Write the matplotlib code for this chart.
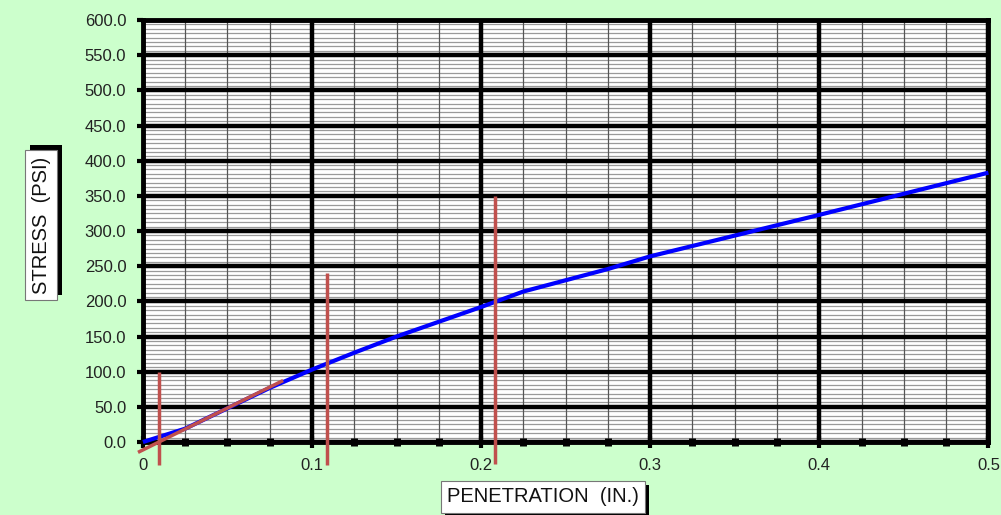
import matplotlib
matplotlib.use("Agg")
import matplotlib.pyplot as plt
from matplotlib.patches import Rectangle
import numpy as np

plt.rcParams['font.family'] = ['Liberation Sans', 'DejaVu Sans']

# Datos de la curva (penetracion vs esfuerzo)
penetration = [0, 0.025, 0.05, 0.075, 0.1, 0.125, 0.15, 0.175, 0.2, 0.225, 0.25, 0.275, 0.3, 0.4, 0.5]
stress = [0, 19, 48, 77, 103, 127, 150, 171, 192, 214, 230, 246, 264, 323, 383]

# Linea de correccion (tangente) y lineas verticales corregidas
corr_x = [-0.002, 0.082]
corr_y = [-13.6, 86.4]
vert_x = [0.0095, 0.109, 0.2085]
vert_top = [100, 240, 350]
vert_bottom = [-33, -33, -31]

x_ticks = [0, 0.1, 0.2, 0.3, 0.4, 0.5]
x_tick_labels = ["0", "0.1", "0.2", "0.3", "0.4", "0.5"]
y_ticks = np.arange(0, 601, 50)
x_minor = np.arange(0, 0.5001, 0.025)
y_minor = np.arange(0, 600.1, 6.25)

fig = plt.figure(figsize=(10.01, 5.15), dpi=100)
fig.patch.set_facecolor('#ccffcc')
ax = fig.add_axes([0.1428, 0.1417, 0.8446, 0.8194])
ax.set_facecolor('white')

ax.set_xlim(0, 0.5)
ax.set_ylim(0, 600)
ax.set_xticks(x_ticks)
ax.set_xticklabels(x_tick_labels)
ax.set_xticks(x_minor, minor=True)
ax.set_yticks(y_ticks)
ax.set_yticklabels([f"{v:.1f}" for v in y_ticks])
ax.set_yticks(y_minor, minor=True)

# Rejilla (a mano para controlar el orden)
for v in y_minor:
    ax.axhline(v, color='#9a9a9a', lw=0.9, zorder=1)
for v in x_minor:
    ax.axvline(v, color='#555555', lw=0.9, zorder=1.5)
for v in y_ticks:
    ax.axhline(v, color='black', lw=3.2, zorder=2)
for v in x_ticks:
    ax.axvline(v, color='black', lw=3.2, zorder=2)

for s in ax.spines.values():
    s.set_linewidth(3.5)
    s.set_color('black')

ax.tick_params(axis='y', which='major', direction='out', length=4, width=3,
               pad=8, labelsize=12, labelcolor='#222222')
ax.tick_params(axis='y', which='minor', length=0)
ax.tick_params(axis='x', which='major', direction='inout', length=9, width=3,
               pad=7, labelsize=12, labelcolor='#222222')
ax.tick_params(axis='x', which='minor', direction='inout', length=6, width=5)

# Curva
ax.plot(penetration, stress, color='#0000ff', lw=3, zorder=5, clip_on=False,
        solid_capstyle='butt')

# Correccion
ax.plot(corr_x, corr_y, color='#c0504d', lw=2.5, zorder=6, clip_on=False)
for x, b, t in zip(vert_x, vert_bottom, vert_top):
    ax.plot([x, x], [b, t], color='#c0504d', lw=2.5, zorder=6, clip_on=False,
            solid_capstyle='butt')

# Etiquetas con caja y sombra
labels = []
for x, y, text, rot, dx, dy in [(0.041, 0.563, "STRESS  (PSI)", 90, 5, 5),
                                (0.5425, 0.035, "PENETRATION  (IN.)", 0, 4, -4)]:
    box = dict(boxstyle='square,pad=0.3', facecolor='white', edgecolor='#777777', lw=0.8)
    t = fig.text(x, y, text, rotation=rot, fontsize=14.5, ha='center', va='center',
                 color='#111111', bbox=box, zorder=3)
    labels.append((t, dx, dy))

fig.canvas.draw()
for t, dx, dy in labels:
    bb = t.get_bbox_patch().get_window_extent()
    fig.patches.append(Rectangle((bb.x0 + dx, bb.y0 + dy), bb.width, bb.height,
                                 facecolor='black', edgecolor='none',
                                 transform=None, zorder=2, figure=fig))

fig.savefig("out.png", dpi=100, facecolor=fig.get_facecolor())
